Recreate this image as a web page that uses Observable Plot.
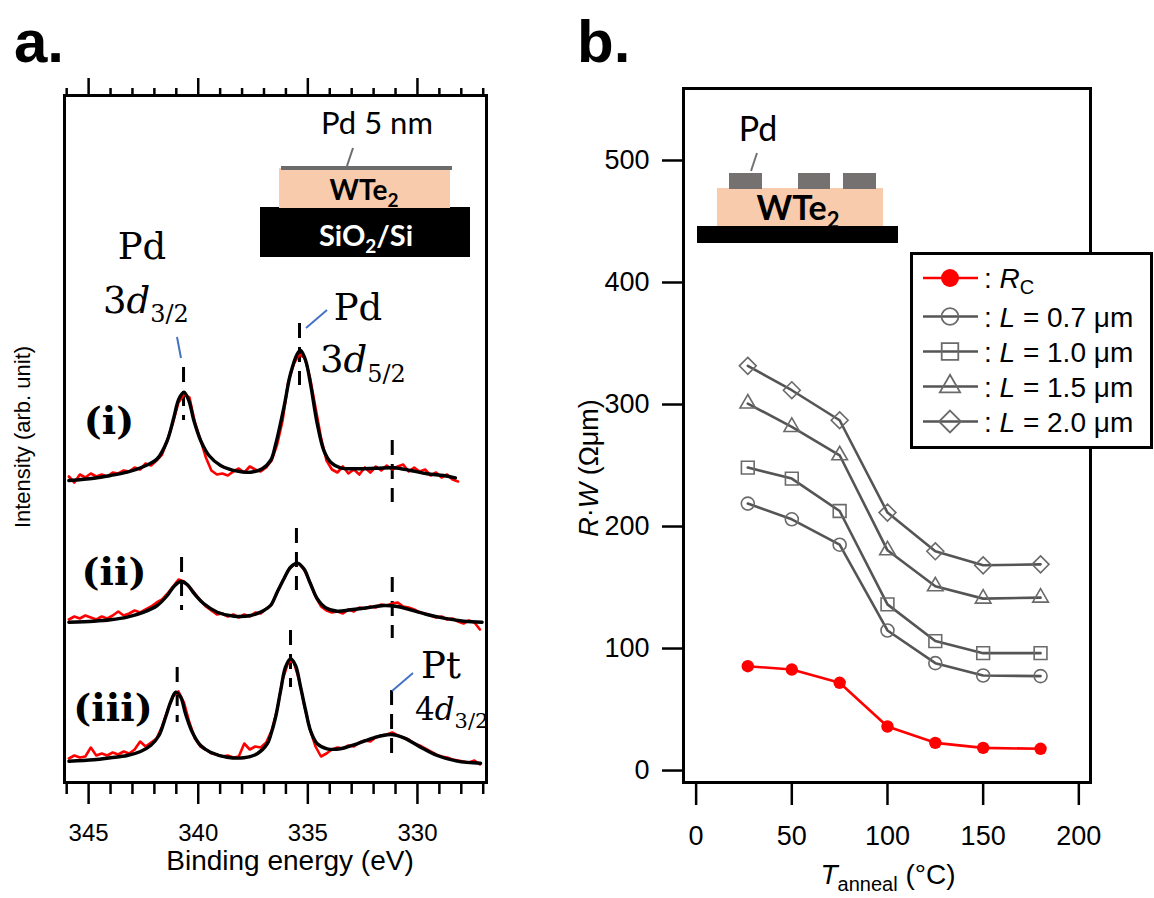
<!DOCTYPE html>
<html><head><meta charset="utf-8">
<script src="https://cdn.jsdelivr.net/npm/d3@7"></script>
<script src="https://cdn.jsdelivr.net/npm/@observablehq/plot@0.6"></script>
<style>
body{margin:0;background:#fff;}
#fig{position:relative;width:1154px;height:898px;overflow:hidden;background:#fff;}
#fig > svg{position:absolute;top:0;}
</style></head><body><div id="fig"></div>
<script>
// ---------- Panel a data (XPS) ----------
const energyGrid = [345.90, 345.65, 345.40, 345.15, 344.90, 344.65, 344.40, 344.15, 343.90, 343.65,
 343.40, 343.15, 342.90, 342.65, 342.40, 342.15, 341.90, 341.65, 341.40, 341.15,
 340.90, 340.65, 340.40, 340.15, 339.90, 339.65, 339.40, 339.15, 338.90, 338.65,
 338.40, 338.15, 337.90, 337.65, 337.40, 337.15, 336.90, 336.65, 336.40, 336.15,
 335.90, 335.65, 335.40, 335.15, 334.90, 334.65, 334.40, 334.15, 333.90, 333.65,
 333.40, 333.15, 332.90, 332.65, 332.40, 332.15, 331.90, 331.65, 331.40, 331.15,
 330.90, 330.65, 330.40, 330.15, 329.90, 329.65, 329.40, 329.15, 328.90, 328.65,
 328.40, 328.15, 327.90, 327.65, 327.40, 327.15];
const rawI = [306, 300, 308, 305, 309, 306, 308, 306, 310, 309, 312, 311, 315, 313, 319, 317, 322, 328, 343, 360,
 380, 388, 385, 360, 343, 325, 312, 308, 309, 307, 311, 314, 310, 316, 313, 311, 315, 322, 338, 362,
 400, 418, 428, 425, 405, 375, 345, 322, 313, 310, 316, 309, 313, 308, 315, 310, 316, 312, 317, 313,
 316, 318, 311, 315, 311, 313, 307, 310, 305, 308, 303, 301];
const rawII = [163, 166, 164, 167, 165, 163, 166, 164, 167, 171, 167, 169, 172, 170, 173, 176, 180, 183, 189, 196,
 203, 201, 195, 189, 182, 176, 172, 168, 169, 166, 168, 165, 168, 166, 170, 169, 174, 178, 190, 201,
 212, 218, 219, 212, 200, 186, 176, 172, 170, 171, 169, 173, 171, 175, 174, 176, 175, 178, 177, 179,
 180, 176, 175, 173, 170, 169, 167, 165, 166, 163, 164, 161, 159, 162, 160, 153];
const rawIII = [24, 27, 25, 26, 35, 27, 29, 27, 30, 28, 31, 29, 33, 41, 36, 40, 44, 56, 72, 86,
 91, 80, 60, 44, 36, 33, 29, 28, 26, 27, 25, 26, 39, 33, 36, 35, 40, 52, 73, 103,
 120, 121, 103, 76, 53, 36, 26, 29, 33, 35, 34, 37, 36, 40, 42, 41, 45, 47, 48, 50,
 47, 45, 43, 39, 37, 34, 31, 28, 26, 25, 23, 22, 21, 20, 22, 18];

const fitE_I = [345.90, 344.76, 344.00, 343.24, 342.48, 341.87, 341.41, 341.11, 340.88, 340.65, 340.43, 340.20, 339.89, 339.51, 338.98, 338.22, 337.61, 337.08, 336.70, 336.47, 336.09, 335.79, 335.48, 335.33, 335.10, 334.88, 334.57, 334.27, 333.96, 333.51, 332.75, 331.84, 331.08, 330.32, 329.56, 328.80, 328.27];
const fitV_I = [302, 304.3, 307, 310.3, 316, 323.7, 342, 365.3, 383.7, 390.3, 382, 362, 342, 327, 317, 311.3, 310.3, 313.7, 322, 338, 375.3, 408.7, 428.7, 432, 422, 398.7, 358.7, 332, 320.3, 314.7, 313.7, 314.3, 314.7, 312, 308.7, 307, 304.7];
const fitE_II = [345.90, 344.76, 344.00, 343.24, 342.48, 341.87, 341.41, 341.11, 340.80, 340.50, 340.20, 339.74, 339.13, 338.37, 337.61, 337.01, 336.70, 336.40, 336.09, 335.79, 335.48, 335.18, 334.88, 334.57, 334.19, 333.66, 333.05, 332.29, 331.53, 330.92, 330.32, 329.56, 328.80, 327.89, 327.05];
const fitV_II = [160.3, 161.3, 162.7, 165.3, 170.3, 177, 187, 196, 201, 198, 189.3, 178.7, 170.3, 166.3, 167, 172, 177, 190.3, 203.7, 215.3, 219.3, 213.7, 198.7, 183.7, 174.7, 171.3, 172.7, 174.7, 177, 176, 172.7, 168, 164.3, 161.3, 160.3];
const fitE_III = [345.90, 344.76, 344.00, 343.24, 342.63, 342.17, 341.79, 341.49, 341.26, 341.03, 340.80, 340.58, 340.27, 339.89, 339.44, 338.68, 337.92, 337.31, 336.85, 336.70, 336.47, 336.24, 336.02, 335.79, 335.56, 335.33, 335.10, 334.88, 334.57, 334.12, 333.51, 332.75, 331.99, 331.23, 330.62, 329.86, 329.10, 328.19, 327.12];
const fitV_III = [21.3, 22.7, 24.7, 27, 31, 37, 47, 65.3, 80.3, 90.3, 85.3, 68.7, 50.3, 37, 30.3, 25.3, 24.7, 28.7, 38.7, 47, 65.3, 92, 115.3, 123.7, 117, 95.3, 72, 52, 38.7, 33.7, 33.7, 38.7, 44.7, 48, 44.7, 35.3, 27, 21.3, 19.3];

// peak position markers (dashed)
const markerE  = [340.67, 335.38, 331.15, 340.76, 335.52, 331.15, 340.96, 335.79, 331.18];
const markerHi = [415, 459, 342, 225, 254, 205, 115, 152, 92];
const markerLo = [362, 397, 280, 172, 192, 144, 60, 95, 22];

const beMajor = [345, 340, 335, 330];
const beMinor = [346, 344, 343, 342, 341, 339, 338, 337, 336, 334, 333, 332, 331, 329, 328, 327];

// ---------- Panel b data ----------
const temps = [27, 50, 75, 100, 125, 150, 180];
const rcVals  = [85.5, 82.8, 71.9, 36.1, 22.7, 18.6, 17.8];
const l07Vals = [218.8, 205.9, 185.1, 114.8, 88.0, 77.9, 77.4];
const l10Vals = [248.3, 239.3, 212.7, 136.2, 106.1, 96.2, 96.2];
const l15Vals = [300.8, 281.6, 258.4, 180.5, 151.0, 140.9, 141.7];
const l20Vals = [331.7, 311.7, 287.1, 211.4, 179.7, 168.2, 169.0];
const seriesNames = ["L = 0.7 μm", "L = 1.0 μm", "L = 1.5 μm", "L = 2.0 μm"];
const seriesSymbols = ["circle", "square", "triangle", "diamond2"];
const seriesR = [6.5, 7.2, 5.8, 7.6];
const rwTicks = [0, 100, 200, 300, 400, 500];
const tTicks = [0, 50, 100, 150, 200];

// ---------- build rows ----------
const toRows = (vals) => vals.map((v, i) => ({E: energyGrid[i], I: v}));
const fitRows = (es, vs) => es.map((e, i) => ({E: e, I: vs[i]}));
const markerRows = markerE.map((e, i) => ({E: e, hi: markerHi[i], lo: markerLo[i]}));

const sans = "'Liberation Sans', Arial, Helvetica, sans-serif";
const serif = "'DejaVu Serif', 'Liberation Serif', serif";
const cal = "Lato, 'Open Sans', sans-serif";

const plotA = Plot.plot({
  width: 500, height: 898,
  marginLeft: 64, marginRight: 14, marginTop: 95, marginBottom: 116,
  x: {domain: [346.1, 326.85]},
  y: {domain: [0, 687], axis: null},
  style: {fontFamily: sans, fontSize: "24px", background: "transparent", color: "black"},
  marks: [
    Plot.ruleX(markerRows, {x: "E", y1: "hi", y2: "lo", stroke: "black", strokeWidth: 3, strokeDasharray: "15,9"}),
    Plot.line(toRows(rawI), {x: "E", y: "I", stroke: "#ff0000", strokeWidth: 2.6}),
    Plot.line(toRows(rawII), {x: "E", y: "I", stroke: "#ff0000", strokeWidth: 2.6}),
    Plot.line(toRows(rawIII), {x: "E", y: "I", stroke: "#ff0000", strokeWidth: 2.6}),
    Plot.line(fitRows(fitE_I, fitV_I), {x: "E", y: "I", stroke: "black", strokeWidth: 3.4, curve: "catmull-rom"}),
    Plot.line(fitRows(fitE_II, fitV_II), {x: "E", y: "I", stroke: "black", strokeWidth: 3.4, curve: "catmull-rom"}),
    Plot.line(fitRows(fitE_III, fitV_III), {x: "E", y: "I", stroke: "black", strokeWidth: 3.4, curve: "catmull-rom"}),
    Plot.axisX({anchor: "bottom", ticks: beMajor, tickSize: 22, tickPadding: 19, strokeWidth: 2.5, label: null}),
    Plot.axisX({anchor: "bottom", ticks: beMinor, tickSize: 12, tickFormat: () => "", strokeWidth: 2.5, label: null}),
    Plot.axisX({anchor: "top", ticks: beMajor, tickSize: 18, tickFormat: () => "", strokeWidth: 2.5, label: null}),
    Plot.axisX({anchor: "top", ticks: beMinor, tickSize: 8, tickFormat: () => "", strokeWidth: 2.5, label: null}),
    Plot.frame({stroke: "black", strokeWidth: 3})
  ]
});
plotA.style.left = "0px";
document.getElementById("fig").appendChild(plotA);

const rowsOf = (vals) => temps.map((t, i) => ({T: t, v: vals[i]}));
const lSeries = [l07Vals, l10Vals, l15Vals, l20Vals];
const marksB = [];
lSeries.forEach((vals, k) => {
  marksB.push(Plot.line(rowsOf(vals), {x: "T", y: "v", stroke: "#555555", strokeWidth: 2.6}));
});
lSeries.forEach((vals, k) => {
  marksB.push(Plot.dot(rowsOf(vals), {x: "T", y: "v", symbol: seriesSymbols[k], r: seriesR[k], stroke: "#6a6a6a", strokeWidth: 1.6, fill: "none"}));
});
marksB.push(Plot.line(rowsOf(rcVals), {x: "T", y: "v", stroke: "#ff0000", strokeWidth: 2.6}));
marksB.push(Plot.dot(rowsOf(rcVals), {x: "T", y: "v", r: 6.2, fill: "#ff0000", stroke: "none"}));
marksB.push(Plot.axisY({anchor: "left", ticks: rwTicks, tickSize: 21, tickPadding: 13, strokeWidth: 2.5, label: null}));
marksB.push(Plot.axisX({anchor: "bottom", ticks: tTicks, tickSize: 23, tickPadding: 20, strokeWidth: 2.5, label: null}));
marksB.push(Plot.frame({stroke: "black", strokeWidth: 3}));

const plotB = Plot.plot({
  width: 594, height: 898,
  marginLeft: 123, marginRight: 64, marginTop: 88, marginBottom: 116,
  x: {domain: [-6.6, 206.1]},
  y: {domain: [-9.8, 559]},
  style: {fontFamily: sans, fontSize: "27px", background: "transparent", color: "black"},
  marks: marksB
});
plotB.style.left = "560px";
document.getElementById("fig").appendChild(plotB);

// ---------- overlay: labels, insets, legend ----------
const ov = d3.select("#fig").append("svg")
  .attr("width", 1154).attr("height", 898)
  .style("position", "absolute").style("left", "0px").style("top", "0px");

function T(x, y, s, o = {}) {
  return ov.append("text").attr("x", x).attr("y", y)
    .attr("font-family", o.family || sans).attr("font-size", o.size || 24)
    .attr("font-weight", o.weight || "normal").attr("font-style", o.style || "normal")
    .attr("fill", o.fill || "black").attr("text-anchor", o.anchor || "start").text(s);
}

// panel letters
T(14, 62, "a.", {size: 60, weight: "bold"});
T(577, 62, "b.", {size: 60, weight: "bold"});

// panel a axis labels
T(290, 870, "Binding energy (eV)", {size: 28, anchor: "middle"});
ov.append("text").attr("transform", "translate(30,437) rotate(-90)")
  .attr("font-family", sans).attr("font-size", 22).attr("text-anchor", "middle").text("Intensity (arb. unit)");

// panel a inset
ov.append("rect").attr("x", 260).attr("y", 207).attr("width", 210).attr("height", 50).attr("fill", "black");
ov.append("rect").attr("x", 279).attr("y", 168).attr("width", 171).attr("height", 40).attr("fill", "#f8cbad");
ov.append("rect").attr("x", 281).attr("y", 166).attr("width", 171).attr("height", 4).attr("fill", "#6b6b6b");
ov.append("line").attr("x1", 353).attr("y1", 148).attr("x2", 347).attr("y2", 166).attr("stroke", "#6b6b6b").attr("stroke-width", 2);
T(377, 134, "Pd 5 nm", {family: cal, size: 31, anchor: "middle"});
{
  const t = T(364, 200, "WTe", {family: cal, size: 28, weight: "bold", anchor: "middle"});
  t.append("tspan").attr("font-size", 19).attr("dy", 7).text("2");
  const s = T(366, 246, "SiO", {family: cal, size: 29, weight: "bold", anchor: "middle", fill: "white"});
  s.append("tspan").attr("font-size", 19).attr("dy", 7).text("2");
  s.append("tspan").attr("dy", -7).text("/Si");
}

// peak annotations
function dLabel(x, y, num, sub, size, subSize, subDy) {
  const t = ov.append("text").attr("x", x).attr("y", y).attr("font-family", serif).attr("font-size", size);
  t.append("tspan").text(num);
  t.append("tspan").attr("font-style", "italic").text("d");
  t.append("tspan").attr("font-size", subSize).attr("dy", subDy).text(sub);
}
T(142, 259, "Pd", {family: serif, size: 37, anchor: "middle"});
dLabel(103, 313, "3", "3/2", 37, 24, 9);
T(358, 320, "Pd", {family: serif, size: 37, anchor: "middle"});
dLabel(320, 372, "3", "5/2", 37, 24, 10);
T(441, 678, "Pt", {family: serif, size: 37, anchor: "middle"});
dLabel(415, 720, "4", "3/2", 31, 21, 8);
const blue = "#4472c4";
[[177, 337, 181, 358], [327, 310, 306, 328], [413, 673, 392, 691]].forEach(([a, b, c, d]) =>
  ov.append("line").attr("x1", a).attr("y1", b).attr("x2", c).attr("y2", d).attr("stroke", blue).attr("stroke-width", 2));
T(109, 434, "(i)", {family: serif, size: 38, weight: "bold", anchor: "middle"});
T(114, 585, "(ii)", {family: serif, size: 38, weight: "bold", anchor: "middle"});
T(113, 721, "(iii)", {family: serif, size: 38, weight: "bold", anchor: "middle"});

// panel b axis labels
{
  const t = ov.append("text").attr("x", 888).attr("y", 884).attr("font-family", sans).attr("font-size", 28).attr("text-anchor", "middle");
  t.append("tspan").attr("font-style", "italic").text("T");
  t.append("tspan").attr("font-size", 20).attr("dy", 7).text("anneal");
  t.append("tspan").attr("dy", -7).text(" (°C)");
  const y = ov.append("text").attr("transform", "translate(598,468) rotate(-90)").attr("font-family", sans).attr("font-size", 27).attr("text-anchor", "middle");
  y.append("tspan").attr("font-style", "italic").text("R");
  y.append("tspan").text("·");
  y.append("tspan").attr("font-style", "italic").text("W");
  y.append("tspan").text(" (Ωμm)");
}

// panel b inset
ov.append("rect").attr("x", 697).attr("y", 226).attr("width", 201).attr("height", 17).attr("fill", "black");
ov.append("rect").attr("x", 717).attr("y", 188).attr("width", 166).attr("height", 38).attr("fill", "#f8cbad");
[[729, 33], [798, 32], [843, 33]].forEach(([x, w]) =>
  ov.append("rect").attr("x", x).attr("y", 173).attr("width", w).attr("height", 16).attr("fill", "#767171"));
ov.append("line").attr("x1", 757).attr("y1", 153).attr("x2", 751).attr("y2", 171).attr("stroke", "#767171").attr("stroke-width", 2);
T(758, 141, "Pd", {family: cal, size: 34, anchor: "middle"});
{
  const t = T(798, 220, "WTe", {family: cal, size: 34, weight: "bold", anchor: "middle"});
  t.append("tspan").attr("font-size", 22).attr("dy", 8).text("2");
}

// legend
ov.append("rect").attr("x", 911.5).attr("y", 253.5).attr("width", 240).attr("height", 194)
  .attr("fill", "white").attr("stroke", "black").attr("stroke-width", 3);
const legY = [278, 316.5, 351.5, 386.5, 421.5];
const symMap = {circle: d3.symbolCircle, square: d3.symbolSquare, triangle: d3.symbolTriangle, diamond2: d3.symbolDiamond2};
ov.append("line").attr("x1", 923).attr("x2", 978).attr("y1", legY[0]).attr("y2", legY[0]).attr("stroke", "#ff0000").attr("stroke-width", 2.6);
ov.append("circle").attr("cx", 950).attr("cy", legY[0]).attr("r", 9).attr("fill", "#ff0000");
{
  const t = T(984, legY[0] + 10, ": ", {size: 28});
  t.append("tspan").attr("font-style", "italic").text("R");
  t.append("tspan").attr("font-size", 20).attr("dy", 6).text("C");
}
seriesNames.forEach((name, k) => {
  const y = legY[k + 1];
  ov.append("line").attr("x1", 923).attr("x2", 978).attr("y1", y).attr("y2", y).attr("stroke", "#555555").attr("stroke-width", 2.6);
  const r = seriesR[k] * 1.3;
  ov.append("path").attr("transform", `translate(950,${y})`)
    .attr("d", d3.symbol(symMap[seriesSymbols[k]], Math.PI * r * r)())
    .attr("fill", "none").attr("stroke", "#6a6a6a").attr("stroke-width", 1.8);
  const t = T(984, y + 10, ": ", {size: 28});
  t.append("tspan").attr("font-style", "italic").text(name.slice(0, 1));
  t.append("tspan").text(name.slice(1));
});
</script></body></html>
